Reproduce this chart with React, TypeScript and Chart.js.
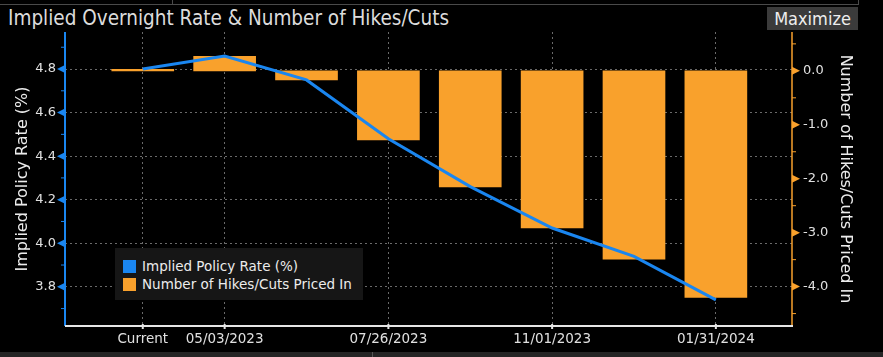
import React, { useEffect, useRef } from 'react';
import { Chart, registerables } from 'chart.js';

Chart.register(...registerables);

// ---- data ----
const categories = ['Current', '05/03/2023', '06/14/2023', '07/26/2023', '09/20/2023', '11/01/2023', '12/13/2023', '01/31/2024'];
const shownLabels = [true, true, false, true, false, true, false, true];
const impliedRate = [4.80, 4.86, 4.75, 4.48, 4.26, 4.07, 3.94, 3.74];
const hikesCuts = [0.03, 0.27, -0.17, -1.28, -2.15, -2.91, -3.49, -4.20];
const seriesNames = ['Implied Policy Rate (%)', 'Number of Hikes/Cuts Priced In'];
const seriesColors = ['#1a86f0', '#f9a12c'];
const chartTitle = 'Implied Overnight Rate & Number of Hikes/Cuts';
const leftAxisTitle = 'Implied Policy Rate (%)';
const rightAxisTitle = 'Number of Hikes/Cuts Priced In';

const W = 883;
const H = 357;
const FONT = '"DejaVu Sans", "Open Sans", sans-serif';

const isMajorLeft = (v: number) => Math.round(v * 10) % 2 === 0;
const isMajorRight = (v: number) => Math.abs(Math.round(v * 2)) % 2 === 0;

const axisMarks = {
  id: 'axisMarks',
  afterDraw(chart: any) {
    const { ctx, chartArea } = chart;
    const { left, right, top, bottom } = chartArea;
    const y = chart.scales.y;
    const y1 = chart.scales.y1;
    ctx.save();
    // left axis
    ctx.strokeStyle = seriesColors[0];
    ctx.fillStyle = seriesColors[0];
    ctx.lineWidth = 2;
    ctx.beginPath();
    ctx.moveTo(left, top);
    ctx.lineTo(left, bottom);
    ctx.stroke();
    y.ticks.forEach((t: any) => {
      const py = y.getPixelForValue(t.value);
      if (isMajorLeft(t.value)) {
        ctx.beginPath();
        ctx.moveTo(left, py - 4);
        ctx.lineTo(left - 8, py);
        ctx.lineTo(left, py + 4);
        ctx.closePath();
        ctx.fill();
      } else {
        ctx.lineWidth = 1;
        ctx.beginPath();
        ctx.moveTo(left - 4, py);
        ctx.lineTo(left, py);
        ctx.stroke();
      }
    });
    // right axis
    ctx.strokeStyle = seriesColors[1];
    ctx.fillStyle = seriesColors[1];
    ctx.lineWidth = 1.5;
    ctx.beginPath();
    ctx.moveTo(right, top);
    ctx.lineTo(right, bottom);
    ctx.stroke();
    y1.ticks.forEach((t: any) => {
      const py = y1.getPixelForValue(t.value);
      if (isMajorRight(t.value)) {
        ctx.beginPath();
        ctx.moveTo(right, py - 4);
        ctx.lineTo(right + 8, py);
        ctx.lineTo(right, py + 4);
        ctx.closePath();
        ctx.fill();
      } else {
        ctx.lineWidth = 1;
        ctx.beginPath();
        ctx.moveTo(right, py);
        ctx.lineTo(right + 4, py);
        ctx.stroke();
      }
    });
    // bottom axis
    ctx.strokeStyle = '#e6e6e6';
    ctx.lineWidth = 2;
    ctx.beginPath();
    ctx.moveTo(left, bottom);
    ctx.lineTo(right + 1, bottom);
    ctx.stroke();
    const x = chart.scales.x;
    x.ticks.forEach((t: any) => {
      if (!shownLabels[t.value]) return;
      const px = x.getPixelForValue(t.value);
      ctx.lineWidth = 2;
      ctx.beginPath();
      ctx.moveTo(px, bottom - 2);
      ctx.lineTo(px, bottom + 3);
      ctx.stroke();
    });
    ctx.restore();
  },
};

function ChartCanvas() {
  const ref = useRef<HTMLCanvasElement>(null);
  useEffect(() => {
    if (!ref.current) return;
    const chart = new Chart(ref.current, {
      data: {
        datasets: [
          {
            type: 'line',
            label: seriesNames[0],
            data: categories.map((_, i) => ({ x: i, y: impliedRate[i] })),
            yAxisID: 'y',
            borderColor: seriesColors[0],
            borderWidth: 3,
            pointRadius: 0,
            tension: 0,
            order: 0,
          },
          {
            type: 'bar',
            label: seriesNames[1],
            data: categories.map((_, i) => ({ x: i, y: hikesCuts[i] })),
            yAxisID: 'y1',
            backgroundColor: seriesColors[1],
            borderWidth: 0,
            barThickness: 62,
            order: 1,
          },
        ],
      } as any,
      options: {
        animation: false,
        responsive: false,
        maintainAspectRatio: false,
        layout: { padding: { top: 32, left: 0, right: 0, bottom: 0 } },
        plugins: { legend: { display: false }, tooltip: { enabled: false }, title: { display: false } },
        scales: {
          x: {
            type: 'linear',
            offset: false,
            min: -0.95,
            max: 7.93,
            afterBuildTicks: (s: any) => {
              s.ticks = categories.map((_, i) => ({ value: i }));
            },
            afterFit: (s: any) => {
              s.height = H - 326;
            },
            ticks: {
              autoSkip: false,
              maxRotation: 0,
              padding: 5,
              color: '#e0e0e0',
              font: { family: FONT, size: 13.5 },
              callback: (v: any) => (shownLabels[v] ? categories[v] : ''),
            },
            grid: {
              offset: false,
              drawTicks: false,
              color: (c: any) => (c.tick && shownLabels[c.tick.value] ? '#6a6a6a' : 'transparent'),
              lineWidth: 1,
            },
            border: { display: false, dash: [2, 3] },
          },
          y: {
            type: 'linear',
            position: 'left',
            min: 3.62,
            max: 4.97,
            afterFit: (s: any) => {
              s.width = 65;
            },
            ticks: {
              stepSize: 0.1,
              includeBounds: false,
              padding: 9,
              color: '#e0e0e0',
              font: { family: FONT, size: 13 },
              callback: (v: any) => (isMajorLeft(Number(v)) ? Number(v).toFixed(1) : ''),
            },
            grid: {
              drawTicks: false,
              color: (c: any) => (c.tick && isMajorLeft(c.tick.value) ? '#6a6a6a' : 'transparent'),
              lineWidth: 1,
            },
            border: { display: false, dash: [2, 3] },
            title: {
              display: true,
              text: leftAxisTitle,
              color: '#ececec',
              font: { family: FONT, size: 16 },
              padding: { top: 13, bottom: 0 },
            },
          },
          y1: {
            type: 'linear',
            position: 'right',
            min: -4.73,
            max: 0.72,
            afterFit: (s: any) => {
              s.width = W - 792;
            },
            ticks: {
              stepSize: 0.5,
              includeBounds: false,
              padding: 11,
              color: '#e0e0e0',
              font: { family: FONT, size: 13 },
              callback: (v: any) => {
                const n = Number(v);
                if (!isMajorRight(n)) return '';
                return Math.abs(n) < 1e-9 ? '0.0' : n.toFixed(1);
              },
            },
            grid: { display: false, drawTicks: false },
            border: { display: false },
            title: {
              display: true,
              text: rightAxisTitle,
              color: '#ececec',
              font: { family: FONT, size: 16 },
              padding: { top: 28, bottom: 0 },
            },
          },
        },
      } as any,
      plugins: [axisMarks],
    });
    return () => chart.destroy();
  }, []);
  return <canvas ref={ref} width={W} height={H} style={{ position: 'absolute', left: 0, top: 0, width: W, height: H }} />;
}

export default function App() {
  return (
    <div style={{ position: 'fixed', left: 0, top: 0, width: W, height: H, background: '#000', overflow: 'hidden' }}>
      {/* top frame line */}
      <div style={{ position: 'absolute', left: 0, top: -10, width: 858, height: 14, borderBottom: '1px solid #4a4a4a', borderRight: '1px solid #4a4a4a' }} />
      <div style={{ position: 'absolute', left: 172, top: 0, width: 1, height: 4, background: '#4a4a4a' }} />
      {/* title */}
      <div
        style={{
          position: 'absolute',
          left: 8,
          top: 6,
          color: '#dcdcdc',
          fontFamily: '"Liberation Sans Narrow", "DejaVu Sans Condensed", sans-serif',
          fontSize: 20.5,
          whiteSpace: 'nowrap',
        }}
      >
        {chartTitle}
      </div>
      <div
        style={{
          position: 'absolute',
          left: 767,
          top: 7,
          width: 91,
          height: 23,
          background: '#3b3b3b',
          color: '#eeeeee',
          fontFamily: '"Liberation Sans Narrow", "DejaVu Sans Condensed", sans-serif',
          fontSize: 18,
          lineHeight: '23px',
          textAlign: 'center',
        }}
      >
        Maximize
      </div>
      <ChartCanvas />
      {/* legend */}
      <div
        style={{
          position: 'absolute',
          left: 115,
          top: 248,
          width: 248,
          height: 52,
          background: '#161616',
          boxSizing: 'border-box',
          padding: '9px 0 0 8px',
          fontFamily: FONT,
          fontSize: 13.5,
          color: '#ececec',
        }}
      >
        {seriesNames.map((n, i) => (
          <div key={n} style={{ display: 'flex', alignItems: 'center', height: 18 }}>
            <span style={{ display: 'inline-block', width: 13, height: 13, background: seriesColors[i], marginRight: 6 }} />
            <span style={{ whiteSpace: 'nowrap' }}>{n}</span>
          </div>
        ))}
      </div>
      {/* bottom strip */}
      <div style={{ position: 'absolute', left: 0, top: 352, width: W, height: 5, background: '#252525' }} />
      <div style={{ position: 'absolute', left: 372, top: 352, width: 1, height: 5, background: '#555' }} />
    </div>
  );
}
